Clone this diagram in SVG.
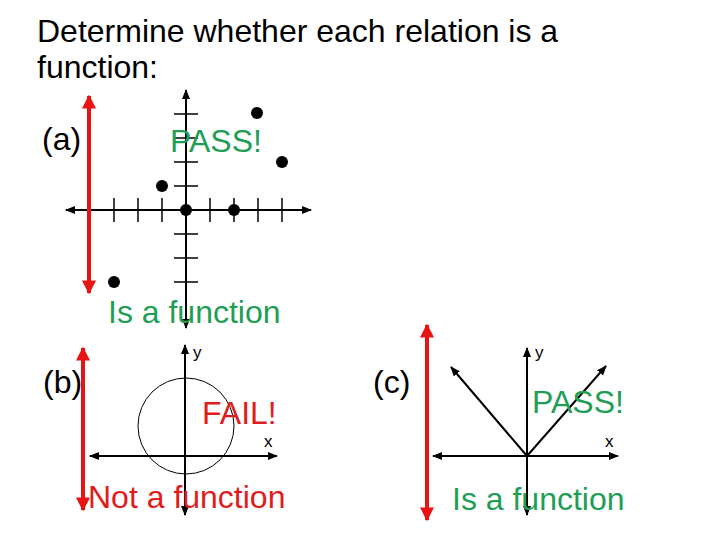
<svg xmlns="http://www.w3.org/2000/svg" width="720" height="540" viewBox="0 0 720 540">
<defs>
<marker id="ah" viewBox="0 0 10 10" refX="9" refY="5" markerWidth="5" markerHeight="5" orient="auto-start-reverse" markerUnits="strokeWidth"><path d="M0,1 L10,5 L0,9 z" fill="#000"/></marker>
<marker id="rh" viewBox="0 0 10 10" refX="9" refY="5" markerWidth="3.5" markerHeight="3.5" orient="auto-start-reverse" markerUnits="strokeWidth"><path d="M0,0 L10,5 L0,10 z" fill="#e81414"/></marker>
</defs>
<style>
text{font-family:"Liberation Sans",Arial,sans-serif}
.t{font-size:32px;fill:#000}
.lbl{font-size:32px;fill:#000}
.g{font-size:32px;fill:#1f9e55}
.r{font-size:32px;fill:#e01c1c}
.s{font-size:17px;fill:#000}
.ax{stroke:#000;stroke-width:2;fill:none;marker-start:url(#ah);marker-end:url(#ah)}
.tk{stroke:#000;stroke-width:1.5}
.red{stroke:#e81414;stroke-width:4;marker-start:url(#rh);marker-end:url(#rh)}
.dot{fill:#000}
</style>
<rect width="720" height="540" fill="#fff"/>
<g id="title">
<text class="t" x="37" y="42">Determine whether each relation is a</text>
<text class="t" x="37" y="78">function:</text>
</g>
<g id="graph-a">
<text class="lbl" x="42" y="150">(a)</text>
<g class="tk">
<line x1="114" y1="198" x2="114" y2="222"/><line x1="138" y1="198" x2="138" y2="222"/><line x1="162" y1="198" x2="162" y2="222"/>
<line x1="210" y1="198" x2="210" y2="222"/><line x1="234" y1="198" x2="234" y2="222"/><line x1="258" y1="198" x2="258" y2="222"/><line x1="282" y1="198" x2="282" y2="222"/>
<line x1="174" y1="114" x2="198" y2="114"/><line x1="174" y1="138" x2="198" y2="138"/><line x1="174" y1="162" x2="198" y2="162"/><line x1="174" y1="186" x2="198" y2="186"/>
<line x1="174" y1="234" x2="198" y2="234"/><line x1="174" y1="258" x2="198" y2="258"/><line x1="174" y1="282" x2="198" y2="282"/>
</g>
<line class="ax" x1="66" y1="210" x2="311" y2="210"/>
<line class="ax" x1="186" y1="328" x2="186" y2="90"/>
<circle class="dot" cx="257" cy="113" r="6"/>
<circle class="dot" cx="282" cy="162" r="6"/>
<circle class="dot" cx="162" cy="186" r="6"/>
<circle class="dot" cx="186" cy="210" r="6"/>
<circle class="dot" cx="234" cy="210" r="6"/>
<circle class="dot" cx="114" cy="282" r="6"/>
<text class="g" x="170" y="152">PASS!</text>
<text class="g" x="108" y="323">Is a function</text>
<line class="red" x1="89" y1="96" x2="89" y2="293"/>
</g>
<g id="graph-b">
<text class="lbl" x="43" y="393">(b)</text>
<circle cx="186" cy="426" r="48" fill="none" stroke="#000" stroke-width="1"/>
<line class="ax" x1="90" y1="456" x2="277" y2="456"/>
<line class="ax" x1="185" y1="515" x2="185" y2="345"/>
<text class="s" x="193" y="358">y</text>
<text class="s" x="264" y="447">x</text>
<text class="r" x="202" y="424">FAIL!</text>
<text class="r" x="88" y="508">Not a function</text>
<line class="red" x1="83" y1="348" x2="83" y2="510"/>
</g>
<g id="graph-c">
<text class="lbl" x="373" y="393">(c)</text>
<line class="ax" x1="433" y1="456" x2="618" y2="456"/>
<line class="ax" x1="527" y1="515" x2="527" y2="348"/>
<line x1="527" y1="456" x2="451" y2="367" stroke="#000" stroke-width="2" marker-end="url(#ah)"/>
<line x1="527" y1="456" x2="606" y2="366" stroke="#000" stroke-width="2" marker-end="url(#ah)"/>
<text class="s" x="535" y="358">y</text>
<text class="s" x="605" y="447">x</text>
<text class="g" x="532" y="413">PASS!</text>
<text class="g" x="452" y="510">Is a function</text>
<line class="red" x1="427" y1="325" x2="427" y2="520"/>
</g>
</svg>
